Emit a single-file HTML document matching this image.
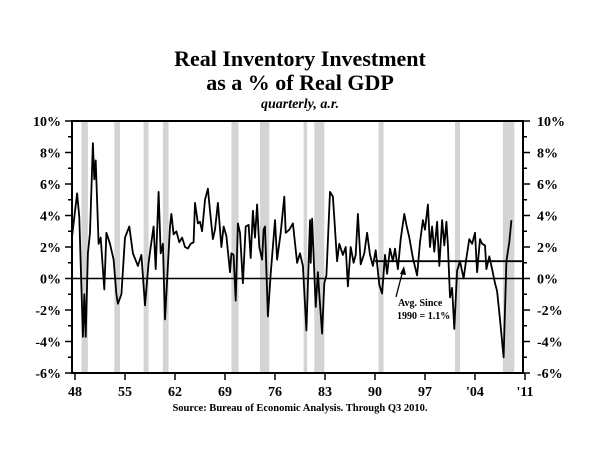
<!DOCTYPE html>
<html><head><meta charset="utf-8"><style>
body{margin:0;background:#fff;}
svg{display:block;font-family:"Liberation Serif",serif;}
</style></head><body>
<svg id="chart" width="600" height="463" viewBox="0 0 600 463">
<text x="300" y="66" text-anchor="middle" font-size="22" font-weight="bold">Real Inventory Investment</text>
<text x="300" y="90" text-anchor="middle" font-size="22" font-weight="bold">as a % of Real GDP</text>
<text x="300" y="108" text-anchor="middle" font-size="14" font-weight="bold" font-style="italic">quarterly, a.r.</text>
<g id="rec"></g>
<g id="axes"></g>
<g id="series"></g>
<text x="300" y="411" text-anchor="middle" font-size="10.5" font-weight="bold">Source:  Bureau of Economic Analysis. Through Q3 2010.</text>
<text x="398" y="306" font-size="10" font-weight="bold">Avg. Since</text>
<text x="397" y="319" font-size="10" font-weight="bold">1990 = 1.1%</text>
</svg>
<script>
const recStart=[1948.9,1953.5,1957.6,1960.3,1969.9,1973.9,1980.0,1981.5,1990.5,2001.2,2007.9];
const recEnd=[1949.8,1954.3,1958.3,1961.1,1970.9,1975.2,1980.5,1982.9,1991.2,2001.9,2009.5];
const yTicks=[-6,-4,-2,0,2,4,6,8,10];
const xTickYears=[1948,1955,1962,1969,1976,1983,1990,1997,2004,2011];
const xTickLabels=["48","55","62","69","76","83","90","97","'04","'11"];
const avgValue=1.1, avgFrom=1990, avgTo=2010.6;
const dates=[1947.6,1948.3,1948.6,1949.1,1949.3,1949.5,1949.8,1950.1,1950.5,1950.7,1950.9,1951.3,1951.6,1952.1,1952.4,1952.9,1953.4,1953.8,1954.0,1954.5,1955.0,1955.6,1956.1,1956.8,1957.3,1957.8,1958.3,1958.6,1959.0,1959.3,1959.7,1960.0,1960.3,1960.6,1961.3,1961.5,1961.8,1962.2,1962.6,1963.0,1963.4,1963.8,1964.2,1964.6,1964.8,1965.2,1965.5,1965.8,1966.2,1966.6,1966.9,1967.3,1967.6,1968.0,1968.5,1968.8,1969.2,1969.7,1969.9,1970.2,1970.5,1970.8,1971.1,1971.5,1971.9,1972.3,1972.6,1972.9,1973.2,1973.5,1973.8,1974.2,1974.4,1974.6,1975.0,1975.4,1976.0,1976.3,1976.8,1977.3,1977.5,1978.0,1978.5,1979.1,1979.5,1979.9,1980.4,1980.9,1981.0,1981.2,1981.7,1982.0,1982.2,1982.6,1982.9,1983.2,1983.7,1984.1,1984.7,1985.0,1985.5,1985.9,1986.2,1986.6,1987.0,1987.3,1987.6,1988.0,1988.5,1988.9,1989.3,1989.7,1990.1,1990.6,1991.0,1991.4,1991.7,1992.1,1992.5,1992.8,1993.2,1993.6,1994.1,1994.4,1994.8,1995.3,1995.9,1996.3,1996.7,1997.0,1997.4,1997.7,1998.0,1998.3,1998.7,1999.0,1999.4,1999.7,2000.0,2000.2,2000.5,2000.8,2001.1,2001.5,2001.9,2002.4,2002.8,2003.2,2003.6,2004.0,2004.3,2004.7,2005.0,2005.4,2005.6,2006.0,2006.4,2006.8,2007.1,2007.5,2008.0,2008.4,2008.8,2009.1,2009.6,2009.9,2010.2];
const values=[2.7,5.4,3.9,-3.7,-1.0,-3.7,1.6,2.9,8.6,6.3,7.5,2.2,2.6,-0.7,2.9,2.2,1.2,-1.0,-1.6,-1.0,2.6,3.3,1.6,0.8,1.5,-1.7,1.0,2.0,3.3,0.6,5.5,1.6,2.2,-2.6,3.3,4.1,2.8,3.0,2.3,2.6,2.0,1.9,2.2,2.3,4.8,3.5,3.6,3.0,5.0,5.7,4.3,2.5,3.1,4.8,2.0,3.3,2.7,0.4,1.6,1.5,-1.4,3.5,2.9,-0.3,3.3,3.4,1.3,4.3,2.6,4.7,2.0,1.2,3.1,3.3,-2.4,0.3,3.7,1.2,2.9,5.2,2.9,3.1,3.5,1.0,1.6,0.8,-3.3,3.7,1.0,3.8,-1.8,0.4,-1.0,-3.5,-0.3,0.2,5.5,5.2,1.1,2.2,1.5,2.0,-0.5,2.0,1.0,1.5,4.1,0.9,1.6,2.9,1.5,0.8,1.8,-0.4,-0.95,1.5,0.3,1.9,1.1,1.9,0.6,2.5,4.1,3.4,2.6,1.3,0.2,2.3,3.7,3.1,4.7,2.0,3.3,1.7,3.6,0.8,3.7,2.1,3.6,2.1,-1.2,-0.6,-3.2,0.5,1.1,0.0,1.3,2.5,2.2,2.9,0.4,2.5,2.2,2.1,0.6,1.4,0.6,-0.3,-0.8,-2.6,-5.0,1.1,2.3,3.7];
const NS="http://www.w3.org/2000/svg";
const L=72,R=523,T=121,B=373;
const xs=y=>75+(y-1948)*(50/7);
const ys=v=>278.5-v*15.75;
function mk(t,a,p){const e=document.createElementNS(NS,t);for(const k in a)e.setAttribute(k,a[k]);p.appendChild(e);return e;}
const rec=document.getElementById('rec');
for(let i=0;i<recStart.length;i++){
 const r=mk('rect',{x:xs(recStart[i]),y:T,width:xs(recEnd[i])-xs(recStart[i]),height:B-T,fill:'#d4d4d4'},rec);
 
 
}
const ax=document.getElementById('axes');
let f=mk('rect',{x:L,y:T,width:R-L,height:B-T,fill:'none',stroke:'#000','stroke-width':2},ax);


for(let v=-6;v<=10;v++){
 const major=v%2===0;
 mk('line',{x1:L-(major?7:4),x2:L,y1:ys(v),y2:ys(v),stroke:'#000','stroke-width':1.5},ax);
 mk('line',{x1:R,x2:R+(major?7:4),y1:ys(v),y2:ys(v),stroke:'#000','stroke-width':1.5},ax);
}
yTicks.forEach(v=>{
 const a=mk('text',{x:61,y:ys(v)+5,'text-anchor':'end','font-size':14,'font-weight':'bold'},ax);
 a.textContent=v+'%';
 
 
 const b=mk('text',{x:537,y:ys(v)+5,'font-size':14,'font-weight':'bold'},ax);
 b.textContent=v+'%';
 
 
});
xTickYears.forEach((y,i)=>{
 mk('line',{x1:xs(y),x2:xs(y),y1:B,y2:B+7,stroke:'#000','stroke-width':1.5},ax);
 const t=mk('text',{x:xs(y),y:396,'text-anchor':'middle','font-size':14,'font-weight':'bold'},ax);
 t.textContent=xTickLabels[i];
 
 
});
const z=mk('line',{x1:L,x2:R,y1:ys(0),y2:ys(0),stroke:'#000','stroke-width':1.5},ax);


const s=document.getElementById('series');
const av=mk('line',{x1:xs(avgFrom),x2:xs(avgTo),y1:ys(avgValue),y2:ys(avgValue),stroke:'#000','stroke-width':1.8},s);


const ar=mk('line',{x1:396,y1:297,x2:403,y2:270,stroke:'#000','stroke-width':1.3},s);


const ah=mk('polygon',{points:'404,266 400,274 406,275',fill:'#000'},s);


const p=mk('polyline',{points:dates.map((d,i)=>xs(d).toFixed(1)+','+ys(values[i]).toFixed(1)).join(' '),fill:'none',stroke:'#000','stroke-width':1.8,'stroke-linejoin':'round'},s);


</script>
</body></html>
